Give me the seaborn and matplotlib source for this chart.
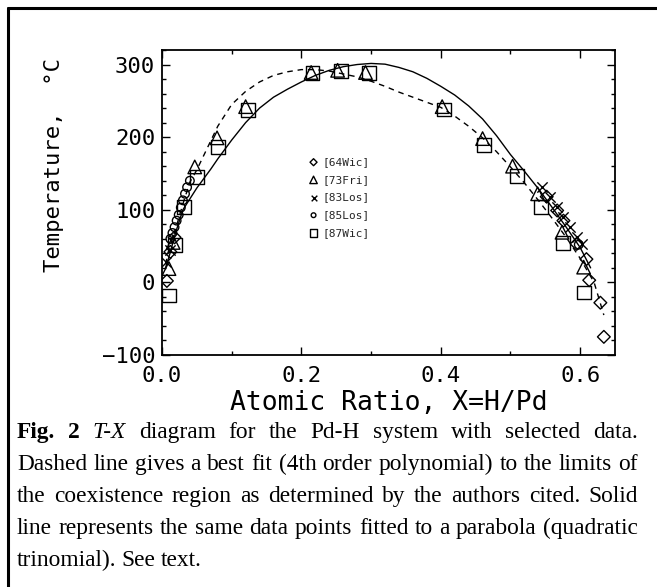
import numpy as np
import pandas as pd
import matplotlib
matplotlib.use("Agg")
import matplotlib.pyplot as plt
import seaborn as sns
from matplotlib.ticker import MultipleLocator, FixedLocator
from matplotlib.lines import Line2D

# ---------------- data ----------------
wic64_x = [0.007, 0.012, 0.018, 0.552, 0.567, 0.576, 0.595, 0.609, 0.613, 0.629, 0.634]
wic64_y = [2, 42, 62, 118, 99, 85, 53, 32, 3, -28, -75]

fri73_x = [0.010, 0.016, 0.047, 0.079, 0.120, 0.214, 0.252, 0.292, 0.402, 0.460, 0.503, 0.539, 0.574, 0.605]
fri73_y = [19, 55, 159, 199, 242, 289, 292, 289, 242, 198, 160, 122, 69, 21]

los83_x = [0.006, 0.012, 0.545, 0.557, 0.567, 0.576, 0.586, 0.595, 0.602]
los83_y = [28, 45, 131, 118, 104, 90, 76, 62, 53]

los85_x = [0.012, 0.015, 0.018, 0.021, 0.024, 0.027, 0.030, 0.033, 0.036, 0.040, 0.598]
los85_y = [60, 68, 76, 85, 93, 103, 113, 122, 131, 140, 52]

wic87_x = [0.010, 0.019, 0.031, 0.050, 0.080, 0.124, 0.216, 0.257, 0.297, 0.404, 0.462, 0.510, 0.544, 0.575, 0.605]
wic87_y = [-18, 51, 104, 145, 187, 237, 288, 291, 288, 238, 189, 146, 104, 54, -14]

# dashed curve: 4th order polynomial fit
poly4_x = [0.005, 0.010, 0.020, 0.030, 0.040, 0.050, 0.060, 0.080, 0.100, 0.120, 0.140, 0.160, 0.180,
           0.200, 0.220, 0.240, 0.260, 0.280, 0.300, 0.320, 0.340, 0.360, 0.380, 0.400, 0.420,
           0.440, 0.460, 0.480, 0.500, 0.520, 0.540, 0.560, 0.580, 0.600, 0.620, 0.634]
poly4_y = [25, 45, 75, 108, 138, 155, 175, 215, 245, 263, 276, 285, 290,
           293, 293, 291, 287, 283, 277, 270, 262, 255, 248, 241, 229,
           215, 199, 180, 159, 137, 113, 88, 62, 33, 0, -45]

# solid curve: parabola fit
parab_x = [0.005, 0.010, 0.020, 0.030, 0.040, 0.050, 0.060, 0.070, 0.080, 0.090, 0.100, 0.120, 0.140,
           0.160, 0.180, 0.200, 0.220, 0.240, 0.260, 0.280, 0.300, 0.320, 0.340, 0.360, 0.380,
           0.400, 0.420, 0.440, 0.460, 0.480, 0.500, 0.520, 0.540, 0.560, 0.580, 0.600, 0.615]
parab_y = [20, 35, 70, 100, 115, 130, 143, 156, 170, 183, 196, 220, 240,
           255, 266, 276, 285, 292, 297, 300, 301.5, 300.5, 296, 290, 281,
           270, 258, 243, 225, 202, 176, 153, 129, 103, 76, 48, 20]

series = [
    ("[64Wic]", wic64_x, wic64_y, "D"),
    ("[73Fri]", fri73_x, fri73_y, "^"),
    ("[83Los]", los83_x, los83_y, "x"),
    ("[85Los]", los85_x, los85_y, "o"),
    ("[87Wic]", wic87_x, wic87_y, "s"),
]
marker_sizes = {"D": 42, "^": 95, "x": 55, "o": 38, "s": 100}

caption_lines = [
    [("Fig.", "bold", "normal"), ("2", "bold", "normal"), ("T-X", "normal", "italic"),
     ("diagram for the Pd-H system with selected data.", "normal", "normal")],
    [("Dashed line gives a best fit (4th order polynomial) to the limits of", "normal", "normal")],
    [("the coexistence region as determined by the authors cited. Solid", "normal", "normal")],
    [("line represents the same data points fitted to a parabola (quadratic", "normal", "normal")],
    [("trinomial). See text.", "normal", "normal")],
]

# ---------------- figure ----------------
sns.set_theme(style="ticks")
plt.rcParams['font.family'] = ['DejaVu Sans Mono']

W, H = 657, 587
fig = plt.figure(figsize=(W / 100, H / 100), dpi=100)
ax = fig.add_axes([162 / W, 1 - 355 / H, (615 - 162) / W, (355 - 50) / H])

sns.lineplot(x=poly4_x, y=poly4_y, ax=ax, color="black", lw=1.0, sort=False,
             estimator=None, linestyle=(0, (4, 3.5)))
sns.lineplot(x=parab_x, y=parab_y, ax=ax, color="black", lw=1.0, sort=False,
             estimator=None)

for lab, xs, ys, m in series:
    if m == "x":
        sns.scatterplot(x=xs, y=ys, ax=ax, marker=m, s=marker_sizes[m], color="black",
                        linewidth=1.0, label=lab, zorder=3)
    else:
        sns.scatterplot(x=xs, y=ys, ax=ax, marker=m, s=marker_sizes[m], facecolors="none",
                        edgecolor="black", linewidth=1.0, label=lab, zorder=3)

ax.set_xlim(0.0, 0.65)
ax.set_ylim(-100, 320)
ax.xaxis.set_major_locator(FixedLocator([0.0, 0.2, 0.4, 0.6]))
ax.xaxis.set_minor_locator(MultipleLocator(0.1))
ax.yaxis.set_major_locator(FixedLocator([-100, 0, 100, 200, 300]))
ax.yaxis.set_minor_locator(MultipleLocator(20))
ax.set_xticklabels(["0.0", "0.2", "0.4", "0.6"])
ax.set_yticklabels(["\u2212100", "0", "100", "200", "300"])
ax.tick_params(which="both", direction="in", top=True, right=True, colors="black",
               labelsize=16, width=1.0)
ax.tick_params(which="major", length=6, pad=5)
ax.tick_params(which="minor", length=3)
ax.tick_params(axis="x", which="major", pad=8)
for sp in ax.spines.values():
    sp.set_linewidth(1.3)
    sp.set_color("black")

ax.set_xlabel("Atomic Ratio, X=H/Pd", fontsize=19, color="black", labelpad=3)
ax.set_ylabel("Temperature,  \u00b0C", fontsize=16, color="black")
ax.yaxis.set_label_coords((64 - 162) / 453, (355 - 165) / 305)

leg = ax.legend(loc="upper left", bbox_to_anchor=(0.31, 0.667), frameon=False,
                prop={"family": "DejaVu Sans Mono", "size": 8}, markerscale=0.55,
                handletextpad=0.3, labelspacing=0.69, handlelength=1.0, borderpad=0)

# frame lines of the page
fig.add_artist(Line2D([8 / W, 1.0], [1 - 8 / H, 1 - 8 / H], color="black", lw=2.2))
fig.add_artist(Line2D([8 / W, 8 / W], [0.0, 1 - 8 / H], color="black", lw=2.2))

# caption, justified
fig.canvas.draw()
renderer = fig.canvas.get_renderer()
cap_font = dict(family="Liberation Serif", size=16.8, color="black")
x_left, x_right = 17, 638
baselines = [438, 470, 502, 534, 566]

for i, line in enumerate(caption_lines):
    words = []
    for txt, wgt, sty in line:
        for w in txt.split(" "):
            words.append((w, wgt, sty))
    arts = []
    widths = []
    for w, wgt, sty in words:
        t = fig.text(0, 0, w, fontweight=wgt, fontstyle=sty, va="baseline", ha="left", **cap_font)
        bb = t.get_window_extent(renderer)
        arts.append(t)
        widths.append(bb.width)
    last = i == len(caption_lines) - 1
    if last:
        gap = 5.0
    else:
        gap = (x_right - x_left - sum(widths)) / (len(words) - 1)
    xc = x_left
    for j, (t, wd) in enumerate(zip(arts, widths)):
        t.set_position((xc / W, 1 - baselines[i] / H))
        xc += wd + gap

fig.savefig("out.png", dpi=100)
